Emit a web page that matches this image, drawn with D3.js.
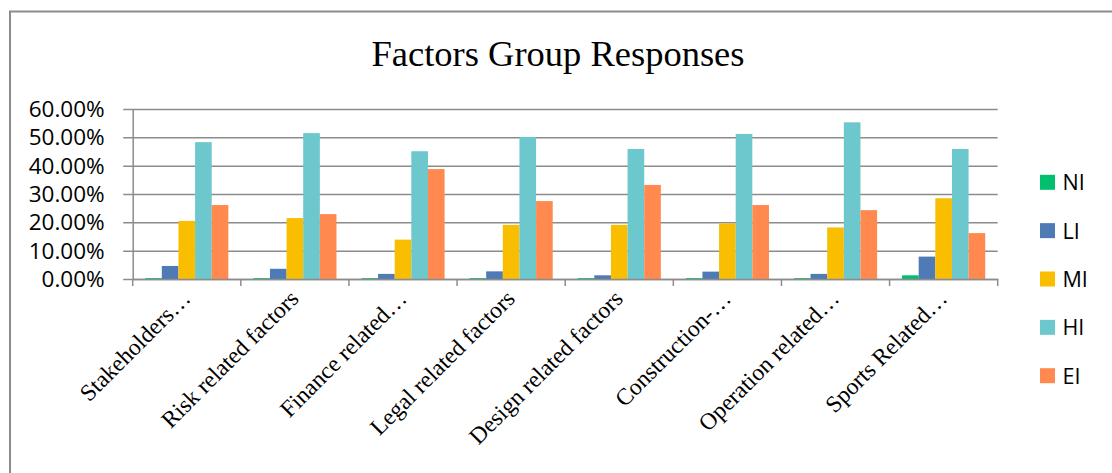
<!DOCTYPE html>
<html>
<head>
<meta charset="utf-8">
<script src="https://cdn.jsdelivr.net/npm/d3@7"></script>
<style>
  html, body { margin: 0; padding: 0; background: #fff; }
  svg { display: block; }
</style>
</head>
<body>
<svg id="chart" width="1112" height="473"></svg>
<script>
const title = "Factors Group Responses";
const categories = [
  "Stakeholders…", "Risk related factors", "Finance related…", "Legal related factors",
  "Design related factors", "Construction-…", "Operation related…", "Sports Related…"
];
const seriesNames = ["NI", "LI", "MI", "HI", "EI"];
const NI = [0.003, 0.003, 0.003, 0.003, 0.003, 0.003, 0.003, 0.013];
const LI = [0.046, 0.036, 0.018, 0.027, 0.013, 0.026, 0.018, 0.079];
const MI = [0.205, 0.215, 0.139, 0.191, 0.191, 0.196, 0.182, 0.285];
const HI = [0.483, 0.515, 0.451, 0.501, 0.459, 0.512, 0.553, 0.459];
const EI = [0.261, 0.229, 0.388, 0.275, 0.332, 0.261, 0.243, 0.162];
const seriesValues = [NI, LI, MI, HI, EI];
const colors = ["#00BF6F", "#4E7AB5", "#F9BE00", "#6CC8CC", "#FF894F"];
const yTicks = [0, 0.1, 0.2, 0.3, 0.4, 0.5, 0.6];

(function () {
const svg = d3.select("#chart");
const gridColor = "#8c8c8c";

// outer frame (extends beyond the right/bottom edge)
svg.append("rect").attr("x", 10).attr("y", 11.5).attr("width", 1200).attr("height", 600)
  .attr("fill", "none").attr("stroke", gridColor).attr("stroke-width", 2);

// title
svg.append("text").attr("x", 558).attr("y", 66)
  .attr("text-anchor", "middle")
  .attr("font-family", "'Liberation Serif', 'Times New Roman', serif")
  .attr("font-size", 36.5).attr("fill", "#000").text(title);

const pl = 132.7, pr = 997.7, pt = 109, pb = 279;
const x = d3.scaleBand().domain(categories).range([pl, pr]).paddingInner(0).paddingOuter(0);
const xi = d3.scaleBand().domain(seriesNames).range([0, x.bandwidth()]).paddingInner(0).paddingOuter(0.75);
const y = d3.scaleLinear().domain([0, 0.6]).range([pb, pt]);

// gridlines + y axis
const yAxis = d3.axisLeft(y).tickValues(yTicks).tickFormat(d3.format(".2%"))
  .tickSize(-(pr - pl)).tickSizeOuter(0).tickPadding(19);
const gy = svg.append("g").attr("transform", `translate(${pl},0)`).call(yAxis);
gy.select(".domain").attr("stroke", gridColor).attr("stroke-width", 1.5);
gy.selectAll(".tick line").attr("stroke", gridColor).attr("stroke-width", 1.5)
  .attr("x1", -9.5);
gy.selectAll(".tick text")
  .attr("font-family", "'Open Sans', 'Liberation Sans', sans-serif")
  .attr("font-size", 22.5).attr("fill", "#000").attr("x", -28).attr("dy", "0.34em");

// bars
seriesNames.forEach((s, si) => {
  svg.append("g").selectAll("rect").data(seriesValues[si]).join("rect")
    .attr("x", (d, i) => x(categories[i]) + xi(s))
    .attr("y", d => y(d))
    .attr("width", xi.bandwidth())
    .attr("height", d => pb - y(d))
    .attr("fill", colors[si]);
});

// x axis
const xAxis = d3.axisBottom(x).tickSize(0).tickFormat(() => "");
const gx = svg.append("g").attr("transform", `translate(0,${pb})`).call(xAxis);
gx.select(".domain").attr("stroke", gridColor).attr("stroke-width", 1.5);
const boundaries = categories.map(c => x(c)).concat([pr]);
svg.append("g").selectAll("line").data(boundaries).join("line")
  .attr("x1", d => d).attr("x2", d => d)
  .attr("y1", pb).attr("y2", pb + 7)
  .attr("stroke", gridColor).attr("stroke-width", 1.5);

// category labels
svg.append("g").selectAll("text").data(categories).join("text")
  .attr("transform", d => `translate(${x(d) + x.bandwidth() / 2 + 5},${pb + 21}) rotate(-45)`)
  .attr("text-anchor", "end")
  .attr("font-family", "'Liberation Serif', 'Times New Roman', serif")
  .attr("font-size", 23.5).attr("fill", "#000")
  .text(d => d);

// legend
const legY0 = 182.3, legStep = 48.35;
const leg = svg.append("g").selectAll("g").data(seriesNames).join("g")
  .attr("transform", (d, i) => `translate(1040,${legY0 + i * legStep})`);
leg.append("rect").attr("x", 0).attr("y", -7.5).attr("width", 15).attr("height", 15)
  .attr("fill", (d, i) => colors[i]);
leg.append("text").attr("x", 22.5).attr("y", 8)
  .attr("font-family", "'Open Sans', 'Liberation Sans', sans-serif")
  .attr("font-size", 21.5).attr("fill", "#000").text(d => d);
})();
</script>
</body>
</html>
